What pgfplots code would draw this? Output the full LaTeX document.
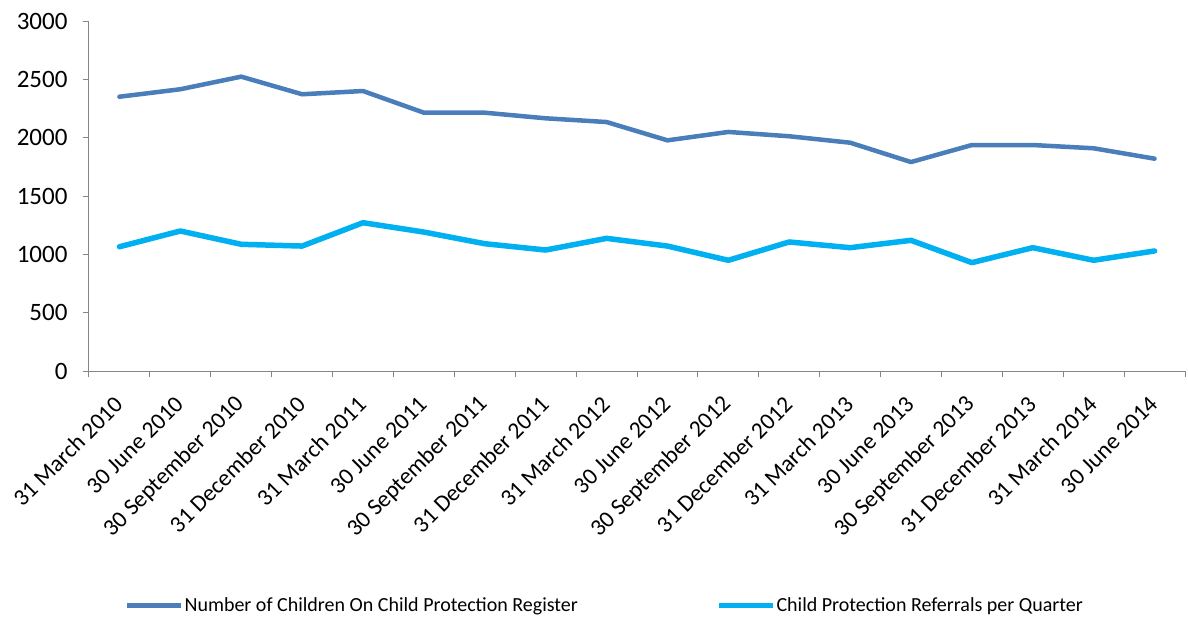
\documentclass[border=0pt]{standalone}
\usepackage{pgfplots}
\pgfplotsset{compat=1.18}
\usepackage{fontspec}
\setmainfont{Carlito}
\definecolor{regblue}{HTML}{4A7EBB}
\definecolor{refblue}{HTML}{00B0F0}
\definecolor{axgray}{HTML}{868686}
\begin{document}
\begin{tikzpicture}
\begin{axis}[
  scale only axis,
  width=1096pt, height=350pt,
  xmin=-0.5, xmax=17.5,
  ymin=0, ymax=3000,
  ytick={0,500,...,3000},
  xtick={0,...,17},
  xticklabels={31 March 2010,30 June 2010,30 September 2010,31 December 2010,31 March 2011,30 June 2011,30 September 2011,31 December 2011,31 March 2012,30 June 2012,30 September 2012,31 December 2012,31 March 2013,30 June 2013,30 September 2013,31 December 2013,31 March 2014,30 June 2014},
  minor xtick={-0.5,0.5,...,17.5},
  major x tick style={draw=none},
  tick align=outside,
  major tick length=6pt,
  minor tick length=6pt,
  every tick/.style={axgray, line width=1pt},
  axis x line*=bottom,
  axis y line*=left,
  axis line style={axgray, line width=1pt, -},
  /pgf/number format/assume math mode=true,
  /pgf/number format/1000 sep={},
  yticklabel style={font=\fontsize{25}{30}\selectfont, text=black, anchor=east, xshift=-12pt},
  xticklabel style={font=\fontsize{23.5}{28}\selectfont, text=black, rotate=45, anchor=east, xshift=-14pt, yshift=-16pt},
  legend style={draw=none, fill=none, inner sep=0pt, font=\fontsize{20}{24}\selectfont,
    at={(rel axis cs:0.0325,-0.669)}, anchor=west,
    nodes={inner sep=0.8pt}},
  legend columns=2,
  legend image code/.code={\draw[#1, line width=5pt, line cap=butt] (-1pt,0pt) -- (53pt,0pt);},
  /tikz/every even column/.append style={column sep=138pt},
  clip=false,
]
\addplot[regblue, line width=4.5pt, line join=round, line cap=round] coordinates {
(0,2351) (1,2415) (2,2523) (3,2372) (4,2400) (5,2214) (6,2214) (7,2166) (8,2134)
(9,1977) (10,2049) (11,2012) (12,1957) (13,1791) (14,1937) (15,1937) (16,1909) (17,1820)};
\addlegendentry{Number of Children On Child Protection Register}
\addplot[refblue, line width=5.5pt, line join=round, line cap=round] coordinates {
(0,1065) (1,1200) (2,1086) (3,1071) (4,1271) (5,1191) (6,1091) (7,1037) (8,1137)
(9,1071) (10,949) (11,1106) (12,1057) (13,1120) (14,929) (15,1057) (16,949) (17,1029)};
\addlegendentry{Child Protection Referrals per Quarter}
\end{axis}
\path[use as bounding box] ([xshift=-89pt,yshift=-245pt]current axis.south west) rectangle ([xshift=3pt,yshift=21pt]current axis.north east);
\end{tikzpicture}
\end{document}
